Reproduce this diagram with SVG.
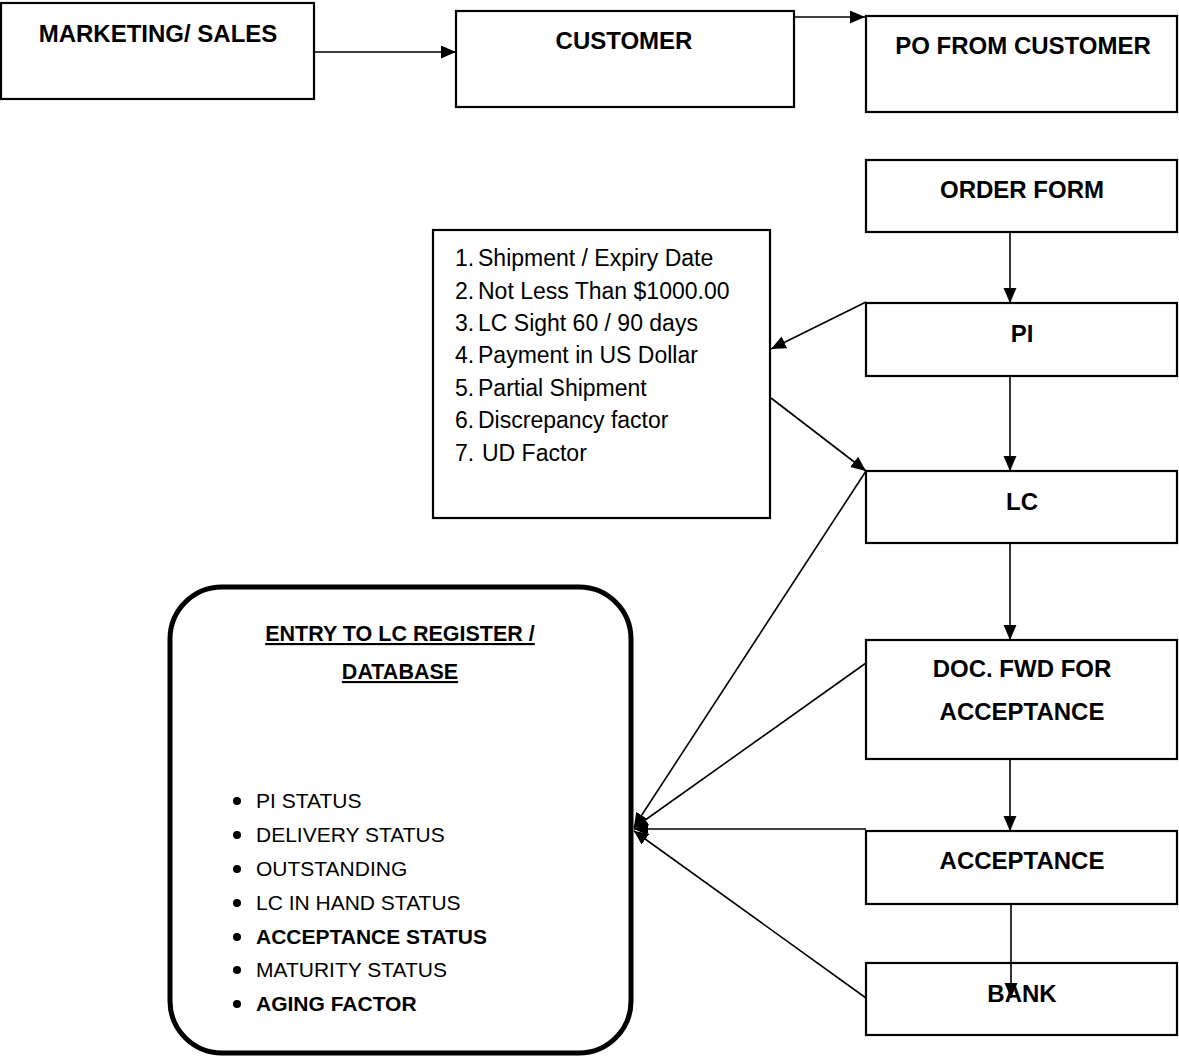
<svg xmlns="http://www.w3.org/2000/svg" width="1179" height="1059" viewBox="0 0 1179 1059">
<style>
.box{fill:#fff;stroke:#000;stroke-width:2.2}
.t{font-family:"Liberation Sans",Arial,sans-serif;font-weight:bold;font-size:24px;fill:#000;text-anchor:middle}
.c{fill:none;stroke:#000;stroke-width:1.6}
.li{font-family:"Liberation Sans",Arial,sans-serif;font-size:23px;fill:#000}
.bl{font-family:"Liberation Sans",Arial,sans-serif;font-size:21px;fill:#000}
.b{font-weight:bold}
.hd{font-family:"Liberation Sans",Arial,sans-serif;font-size:21.5px;font-weight:bold;fill:#000;text-anchor:middle;text-decoration:underline}
</style>
<defs>
<marker id="ah" markerUnits="userSpaceOnUse" markerWidth="16" markerHeight="14" refX="15" refY="6.5" orient="auto">
<path d="M0,0 L15,6.5 L0,13 z" fill="#000"/>
</marker>
<marker id="ah2" markerUnits="userSpaceOnUse" markerWidth="16" markerHeight="14" refX="14" refY="6.5" orient="auto">
<path d="M0,0 L14,6.5 L0,13 z" fill="#000"/>
</marker>
</defs>
<g id="marketing"><rect class="box" x="1" y="3" width="313" height="96"/><text class="t" x="158" y="42">MARKETING/ SALES</text></g>
<g id="customer"><rect class="box" x="456" y="11" width="338" height="96"/><text class="t" x="624" y="49">CUSTOMER</text></g>
<g id="po"><rect class="box" x="866" y="16" width="311" height="96"/><text class="t" x="1023" y="54">PO FROM CUSTOMER</text></g>
<g id="orderform"><rect class="box" x="866" y="160" width="311" height="72"/><text class="t" x="1022" y="198">ORDER FORM</text></g>
<g id="pi"><rect class="box" x="866" y="303" width="311" height="73"/><text class="t" x="1022" y="342">PI</text></g>
<g id="lc"><rect class="box" x="866" y="471" width="311" height="72"/><text class="t" x="1022" y="510">LC</text></g>
<g id="docfwd"><rect class="box" x="866" y="640" width="311" height="119"/><text class="t" x="1022" y="677">DOC. FWD FOR</text><text class="t" x="1022" y="720">ACCEPTANCE</text></g>
<g id="acceptance"><rect class="box" x="866" y="831" width="311" height="73"/><text class="t" x="1022" y="869">ACCEPTANCE</text></g>
<g id="bank"><rect class="box" x="866" y="963" width="311" height="72"/><text class="t" x="1022" y="1002">BANK</text></g>
<g id="conditions">
<rect class="box" x="433" y="230" width="337" height="288"/>
<text class="li" x="455" y="266">1.</text><text class="li" x="478" y="266">Shipment / Expiry Date</text>
<text class="li" x="455" y="299">2.</text><text class="li" x="478" y="299">Not Less Than $1000.00</text>
<text class="li" x="455" y="331">3.</text><text class="li" x="478" y="331">LC Sight 60 / 90 days</text>
<text class="li" x="455" y="363">4.</text><text class="li" x="478" y="363">Payment in US Dollar</text>
<text class="li" x="455" y="396">5.</text><text class="li" x="478" y="396">Partial Shipment</text>
<text class="li" x="455" y="428">6.</text><text class="li" x="478" y="428">Discrepancy factor</text>
<text class="li" x="455" y="461">7.</text><text class="li" x="482" y="461">UD Factor</text>
</g>
<g id="register">
<rect x="170" y="587" width="461" height="466" rx="52" ry="52" fill="#fff" stroke="#000" stroke-width="5"/>
<text class="hd" x="400" y="641">ENTRY TO LC REGISTER /</text>
<text class="hd" x="400" y="679">DATABASE</text>
<g fill="#000">
<circle cx="237" cy="801" r="4"/><circle cx="237" cy="835" r="4"/><circle cx="237" cy="869" r="4"/><circle cx="237" cy="903" r="4"/><circle cx="237" cy="937" r="4"/><circle cx="237" cy="970" r="4"/><circle cx="237" cy="1004" r="4"/>
</g>
<text class="bl" x="256" y="808">PI STATUS</text>
<text class="bl" x="256" y="842">DELIVERY STATUS</text>
<text class="bl" x="256" y="876">OUTSTANDING</text>
<text class="bl" x="256" y="910">LC IN HAND STATUS</text>
<text class="bl b" x="256" y="944">ACCEPTANCE STATUS</text>
<text class="bl" x="256" y="977">MATURITY STATUS</text>
<text class="bl b" x="256" y="1011">AGING FACTOR</text>
</g>
<g id="connectors">
<line class="c" x1="315" y1="52" x2="456" y2="52" marker-end="url(#ah)"/>
<line class="c" x1="795" y1="17" x2="865" y2="17" marker-end="url(#ah)"/>
<line class="c" x1="1010" y1="233" x2="1010" y2="303" marker-end="url(#ah)"/>
<line class="c" x1="1010" y1="377" x2="1010" y2="471" marker-end="url(#ah)"/>
<line class="c" x1="1010" y1="544" x2="1010" y2="640" marker-end="url(#ah)"/>
<line class="c" x1="1010" y1="760" x2="1010" y2="831" marker-end="url(#ah)"/>
<line class="c" x1="1011" y1="905" x2="1011" y2="998" marker-end="url(#ah)"/>
<line class="c" x1="866" y1="302" x2="771" y2="349" marker-end="url(#ah)"/>
<line class="c" x1="771" y1="398" x2="866" y2="471" marker-end="url(#ah)"/>
<line class="c" x1="866" y1="471" x2="634" y2="827" marker-end="url(#ah2)"/>
<line class="c" x1="866" y1="663" x2="634" y2="828" marker-end="url(#ah2)"/>
<line class="c" x1="866" y1="829" x2="634" y2="829" marker-end="url(#ah2)"/>
<line class="c" x1="866" y1="998" x2="634" y2="831" marker-end="url(#ah2)"/>
</g>
</svg>
